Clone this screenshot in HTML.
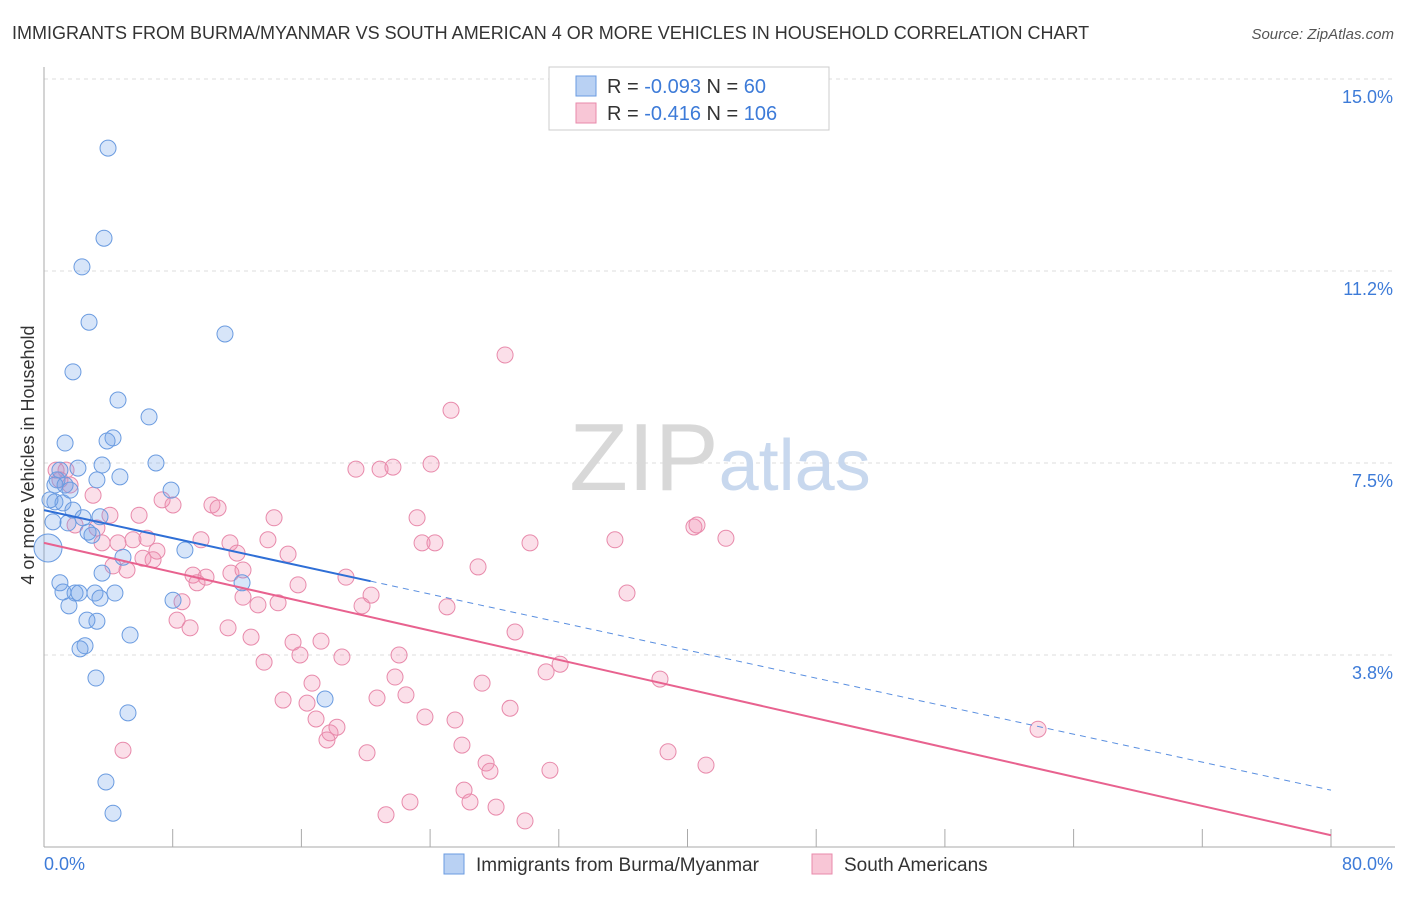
<!DOCTYPE html>
<html><head><meta charset="utf-8"><style>
body{margin:0;background:#fff;font-family:"Liberation Sans",sans-serif;}
svg text{font-family:"Liberation Sans",sans-serif;}
</style></head><body>
<svg id="chart" width="1406" height="892" viewBox="0 0 1406 892" xmlns="http://www.w3.org/2000/svg">
<text x="12" y="39" font-size="18" fill="#333">IMMIGRANTS FROM BURMA/MYANMAR VS SOUTH AMERICAN 4 OR MORE VEHICLES IN HOUSEHOLD CORRELATION CHART</text>
<text x="1394" y="39" font-size="15" fill="#555" text-anchor="end" font-style="italic">Source: ZipAtlas.com</text>
<g id="grid"></g>
<text x="720" y="490" font-size="96" text-anchor="middle" fill="#ddd" font-family="Liberation Serif"><tspan fill="#d8d8d8">ZIP</tspan><tspan fill="#c8d8ee" font-family="Liberation Sans" font-size="72">atlas</tspan></text>
<text transform="translate(34,455) rotate(-90)" font-size="18" fill="#333" text-anchor="middle">4 or more Vehicles in Household</text>
<g id="points"></g>
<g id="trends"></g>
<g>
<rect x="549" y="67" width="280" height="63" fill="#fff" stroke="#ccc"/>
<rect x="576" y="76" width="20" height="20" fill="#b9d1f3" stroke="#6a9be0"/>
<text x="607" y="93" font-size="20" fill="#333">R = <tspan fill="#3d7bd8">-0.093</tspan>   N =  <tspan fill="#3d7bd8"> 60</tspan></text>
<rect x="576" y="103" width="20" height="20" fill="#f8c6d6" stroke="#e88aab"/>
<text x="607" y="120" font-size="20" fill="#333">R =  <tspan fill="#3d7bd8">-0.416</tspan>   N = <tspan fill="#3d7bd8">106</tspan></text>
</g>
<g>
<rect x="444" y="854" width="20" height="20" fill="#b9d1f3" stroke="#6a9be0"/>
<text x="476" y="871" font-size="19" fill="#333">Immigrants from Burma/Myanmar</text>
<rect x="812" y="854" width="20" height="20" fill="#f8c6d6" stroke="#e88aab"/>
<text x="844" y="871" font-size="19" fill="#333">South Americans</text>
</g>
</svg>
<script>
const yTicks=[15.0,11.25,7.5,3.75];
const yTickLabels=["15.0%","11.2%","7.5%","3.8%"];
const xTickValues=[0,8,16,24,32,40,48,56,64,72,80];
const xEndLabels=["0.0%","80.0%"];
const blueX=[3.98,3.73,2.36,2.80,11.25,1.80,4.60,6.53,4.29,3.92,1.31,6.96,3.61,2.11,4.72,3.29,7.90,0.81,0.68,1.18,0.37,1.80,3.48,1.49,2.42,2.98,2.74,4.91,8.76,3.61,12.31,0.99,1.18,1.93,2.18,3.17,4.41,3.48,8.02,1.55,2.67,3.29,5.35,2.55,2.24,3.23,17.47,5.22,3.85,4.29,0.56,0.99,0.68,1.31,1.62];
const blueY=[13.65,11.89,11.33,10.25,10.02,9.28,8.73,8.40,7.99,7.93,7.89,7.50,7.46,7.40,7.23,7.17,6.97,7.17,6.74,6.72,6.78,6.58,6.45,6.33,6.43,6.09,6.15,5.66,5.80,5.35,5.16,5.16,4.98,4.96,4.96,4.96,4.96,4.86,4.82,4.71,4.43,4.41,4.14,3.93,3.87,3.30,2.89,2.62,1.27,0.66,6.35,7.36,7.07,7.07,6.97];
const pinkX=[28.66,25.30,19.39,20.89,21.69,24.06,1.37,0.75,0.99,1.62,3.05,7.34,8.02,10.44,10.82,14.30,23.19,4.10,5.91,3.29,1.93,40.40,40.59,42.39,35.49,30.21,23.50,24.30,9.76,11.56,13.92,5.53,6.40,7.02,3.61,4.60,15.17,12.00,26.98,18.77,6.78,6.15,5.16,4.29,9.26,10.07,9.51,11.62,12.37,15.79,20.33,12.37,13.30,14.55,19.77,25.05,36.24,8.58,8.27,9.08,11.44,12.87,15.48,17.22,29.28,15.91,18.52,22.07,13.68,32.08,31.21,38.29,27.23,21.82,16.66,14.86,16.35,20.70,22.50,28.97,23.68,25.55,16.91,18.21,17.78,17.59,25.98,20.08,38.79,27.48,27.72,41.15,31.45,4.91,61.79,26.11,22.75,26.48,28.10,21.26,29.90];
const pinkY=[9.61,8.53,7.38,7.38,7.42,7.48,7.36,7.36,7.17,7.07,6.87,6.78,6.68,6.68,6.62,6.43,6.43,6.48,6.48,6.23,6.29,6.25,6.29,6.03,6.00,5.94,5.94,5.94,6.00,5.94,6.00,6.00,6.03,5.78,5.94,5.94,5.72,5.74,5.47,5.27,5.61,5.64,5.41,5.49,5.31,5.27,5.16,5.35,5.41,5.12,4.92,4.88,4.73,4.77,4.71,4.69,4.96,4.79,4.43,4.28,4.28,4.10,4.00,4.02,4.20,3.75,3.71,3.75,3.61,3.57,3.42,3.28,3.20,3.32,3.20,2.87,2.81,2.91,2.97,2.71,2.54,2.48,2.50,2.34,2.23,2.09,1.99,1.84,1.86,1.64,1.48,1.60,1.50,1.89,2.30,1.11,0.88,0.88,0.78,0.63,0.51];
const blueTrend=[6.58,1.11];
const pinkTrend=[5.94,0.23];
const blueSolidEnd=20.3;

const NS="http://www.w3.org/2000/svg";
const X0=44,X1=1331,Y0=847,Y1=79;
function sx(v){return X0+(v/80)*(X1-X0);}
function sy(v){return Y0-(v/15)*(Y0-Y1);}
function mk(tag,attrs,parent){const e=document.createElementNS(NS,tag);for(const k in attrs)e.setAttribute(k,attrs[k]);parent.appendChild(e);return e;}
const grid=document.getElementById('grid');
yTicks.forEach((t,i)=>{
  const l=mk('line',{x1:X0,x2:1395,y1:sy(t),y2:sy(t),stroke:'#ddd','stroke-dasharray':'4,4'},grid);
  
  
  const tx=mk('text',{x:1393,y:sy(t)+24,'font-size':18,fill:'#3d7bd8','text-anchor':'end'},grid);
  tx.textContent=yTickLabels[i];
  
  
});
const ax=mk('line',{x1:X0,x2:X0,y1:67,y2:Y0,stroke:'#aaa'},grid);


const bx=mk('line',{x1:X0,x2:1395,y1:Y0,y2:Y0,stroke:'#aaa'},grid);


xTickValues.forEach(t=>{
  const l=mk('line',{x1:sx(t),x2:sx(t),y1:Y0-18,y2:Y0,stroke:'#aaa'},grid);
  
  
});
const xl0=mk('text',{x:44,y:870,'font-size':18,fill:'#3d7bd8'},grid);xl0.textContent=xEndLabels[0];


const xl1=mk('text',{x:1393,y:870,'font-size':18,fill:'#3d7bd8','text-anchor':'end'},grid);xl1.textContent=xEndLabels[1];


const pts=document.getElementById('points');
pinkX.forEach((v,i)=>{
  const c=mk('circle',{cx:sx(v),cy:sy(pinkY[i]),r:8,fill:'rgba(240,140,175,0.28)',stroke:'#e88aab','stroke-width':1},pts);
  
  
});
blueX.forEach((v,i)=>{
  const c=mk('circle',{cx:sx(v),cy:sy(blueY[i]),r:(i===29?8:8),fill:'rgba(110,160,235,0.28)',stroke:'#6a9be0','stroke-width':1},pts);
  
  
});
const big=mk('circle',{cx:sx(0.25),cy:sy(5.84),r:14,fill:'rgba(110,160,235,0.28)',stroke:'#6a9be0'},pts);


const tr=document.getElementById('trends');
function ty(arr,x){return arr[0]+(arr[1]-arr[0])*x/80;}
const pl=mk('line',{x1:sx(0),y1:sy(pinkTrend[0]),x2:sx(80),y2:sy(pinkTrend[1]),stroke:'#e8628f','stroke-width':2},tr);


const bl=mk('line',{x1:sx(0),y1:sy(blueTrend[0]),x2:sx(blueSolidEnd),y2:sy(ty(blueTrend,blueSolidEnd)),stroke:'#2f6fd6','stroke-width':2},tr);


const bd=mk('line',{x1:sx(blueSolidEnd),y1:sy(ty(blueTrend,blueSolidEnd)),x2:sx(80),y2:sy(blueTrend[1]),stroke:'#5a8fe0','stroke-width':1,'stroke-dasharray':'6,5'},tr);


</script>
</body></html>
